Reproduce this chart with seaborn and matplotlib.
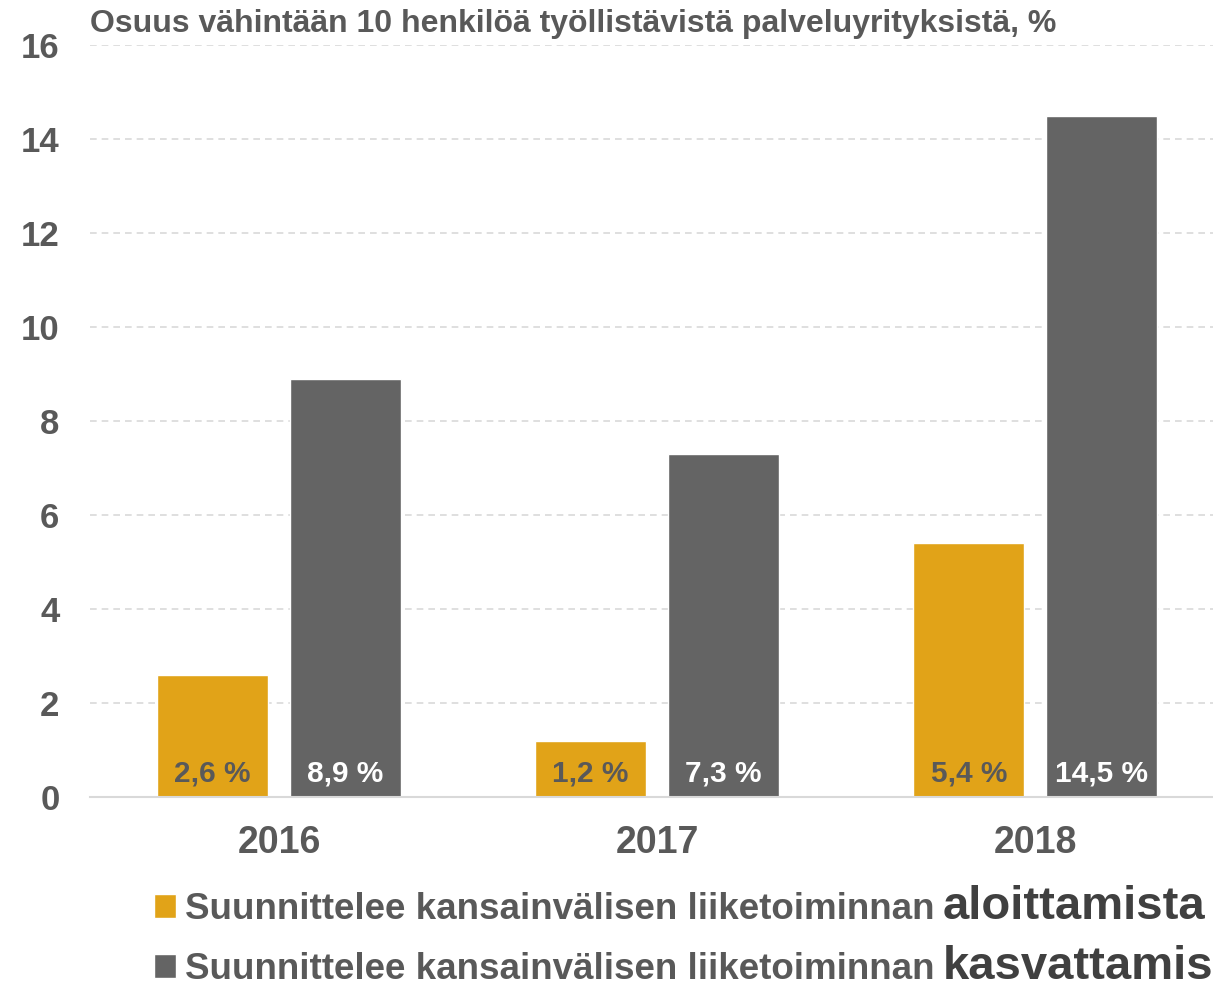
import pandas as pd
import seaborn as sns
import matplotlib.pyplot as plt

# Data
years = ['2016', '2017', '2018']
aloittamista = [2.6, 1.2, 5.4]
kasvattamista = [8.9, 7.3, 14.5]
legend_prefix = 'Suunnittelee kansainvälisen liiketoiminnan'
series_words = ['aloittamista', 'kasvattamista']
title = 'Osuus vähintään 10 henkilöä työllistävistä palveluyrityksistä, %'

orange = '#E1A318'
gray = '#646464'
text_gray = '#595959'

df = pd.DataFrame({
    'year': years * 2,
    'value': aloittamista + kasvattamista,
    'series': [series_words[0]] * 3 + [series_words[1]] * 3,
})

sns.set_theme(style='white')
plt.rcParams['font.family'] = ['Liberation Sans', 'DejaVu Sans']

fig = plt.figure(figsize=(12.13, 9.91), dpi=100)
ax = fig.add_axes([90 / 1213, 194 / 991, 1123 / 1213, 752 / 991])

sns.barplot(data=df, x='year', y='value', hue='series',
            palette=[orange, gray], width=0.704, gap=0.165,
            saturation=1, ax=ax)

# Labels inside the bars
for cont, col in zip(ax.containers, [text_gray, 'white']):
    labels = [f'{v:.1f} %'.replace('.', ',') for v in cont.datavalues]
    for bar, lab in zip(cont, labels):
        ax.text(bar.get_x() + bar.get_width() / 2, 0.5, lab,
                ha='center', va='center', fontsize=21.5, fontweight='bold', color=col)

ax.set_ylim(0, 16)
ax.set_xlim(-0.5, 2.47)
ax.set_yticks(range(0, 17, 2))
ax.yaxis.grid(True, linestyle=(0, (4, 3)), color='#D9D9D9', linewidth=1.2)
ax.set_axisbelow(True)
for s in ['left', 'right', 'top']:
    ax.spines[s].set_visible(False)
ax.spines['bottom'].set_color('#D9D9D9')
ax.spines['bottom'].set_linewidth(1.5)
ax.tick_params(axis='y', length=0, pad=22, labelsize=25, labelcolor=text_gray)
ax.tick_params(axis='x', length=0, pad=20, labelsize=27, labelcolor=text_gray)
for t in ax.get_xticklabels() + ax.get_yticklabels():
    t.set_fontweight('bold')
ax.set_xlabel('')
ax.set_ylabel('')

fig.text(90 / 1213, 1 - 24 / 991, title, ha='left', va='center',
         fontsize=23, fontweight='bold', color=text_gray)

# Legend at the bottom, followed by the emphasised word
leg_size = 26.5
handles, _ = ax.get_legend_handles_labels()
leg = ax.legend(handles, [legend_prefix] * 2, loc='upper left',
                bbox_to_anchor=(154 / 1213, 1 - 892 / 991), bbox_transform=fig.transFigure,
                frameon=False, handlelength=0.6, handleheight=0.6, handletextpad=0.25,
                labelspacing=0.68, borderaxespad=0, borderpad=0,
                prop={'size': leg_size, 'weight': 'bold'})
for t in leg.get_texts():
    t.set_color(text_gray)

fig.canvas.draw()
for t, word in zip(leg.get_texts(), series_words):
    bb = t.get_window_extent()
    baseline = bb.y0 + 0.212 * leg_size * 100 / 72
    fig.text((bb.x1 + 8) / 1213, baseline / 991, word, ha='left', va='baseline',
             fontsize=34, fontweight='bold', color='#404040')

fig.savefig('out.png', dpi=100)
